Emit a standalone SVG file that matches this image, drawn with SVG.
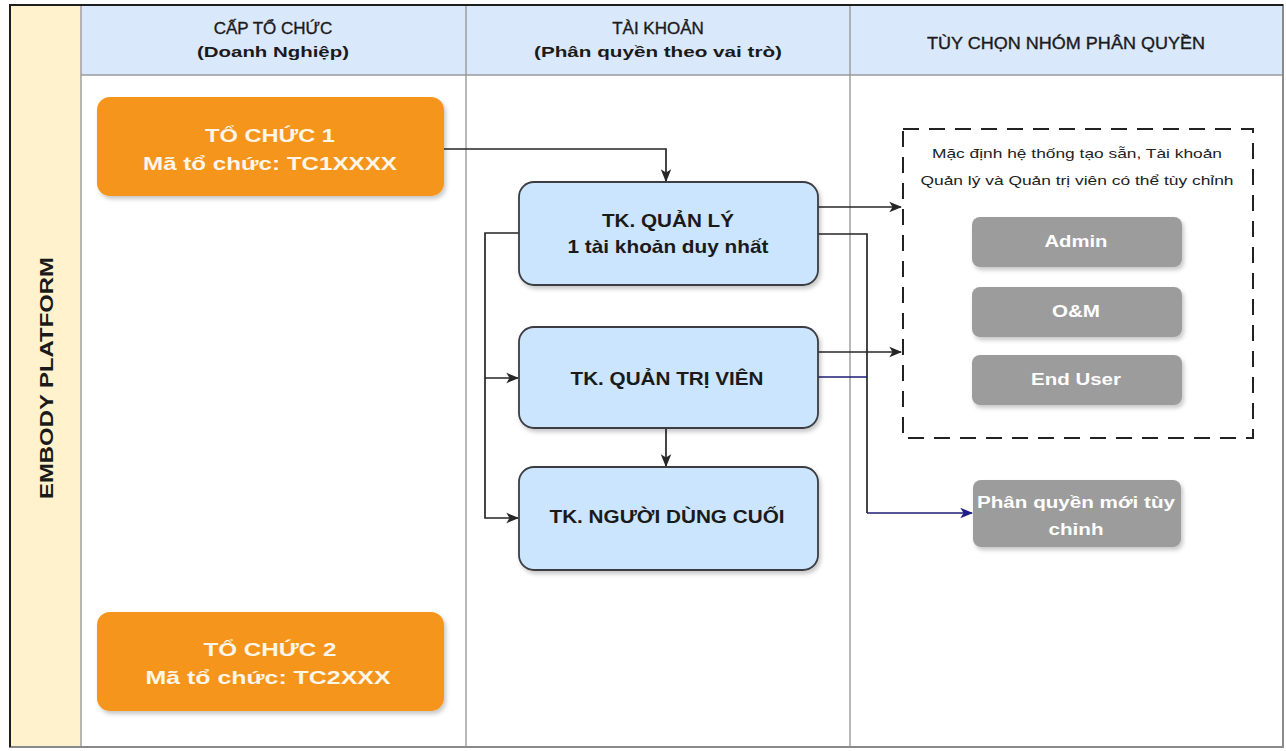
<svg xmlns="http://www.w3.org/2000/svg" width="1286" height="751" viewBox="0 0 1286 751">
<defs>
<style>
.t{font-family:"Liberation Sans",Arial,sans-serif;text-anchor:middle}
.hd{font-size:17px;fill:#1a1a1a;stroke:#1a1a1a;stroke-width:0.35}
.hb{font-size:15px;font-weight:bold;fill:#1a1a1a}
.org{fill:#F5951F}
.ot{font-size:19px;font-weight:bold;fill:#FFF6EA}
.blue{fill:#CCE5FF;stroke:#3A3D42;stroke-width:1.8}
.bt{font-size:19px;font-weight:bold;fill:#1a1a1a}
.gray{fill:#9C9C9C}
.gt{font-size:16px;font-weight:bold;fill:#FFFFFF}
.edge{fill:none;stroke:#262626;stroke-width:1.7}
.edgeb{fill:none;stroke:#1E1E7A;stroke-width:1.7}
.col{stroke:#9A9A9A;stroke-width:1.4}
</style>
<filter id="sh" x="-10%" y="-10%" width="125%" height="130%">
<feDropShadow dx="2" dy="3" stdDeviation="2" flood-color="#000" flood-opacity="0.22"/>
</filter>
<marker id="ar" viewBox="0 0 10 10" refX="9" refY="5" markerWidth="13" markerHeight="13" markerUnits="userSpaceOnUse" orient="auto">
<path d="M0,1 L10,5 L0,9 L2.5,5 z" fill="#262626"/>
</marker>
<marker id="arb" viewBox="0 0 10 10" refX="9" refY="5" markerWidth="13" markerHeight="13" markerUnits="userSpaceOnUse" orient="auto">
<path d="M0,1 L10,5 L0,9 L2.5,5 z" fill="#1E1E8A"/>
</marker>
</defs>

<g id="frame">
<rect x="10" y="5" width="1273" height="742" fill="#FFFFFF"/>
<rect x="10" y="5" width="71" height="742" fill="#FFF2CC"/>
<rect x="81" y="5" width="1202" height="70" fill="#DAE8FC"/>
<line class="col" x1="81" y1="5" x2="81" y2="747"/>
<line class="col" x1="466" y1="5" x2="466" y2="747"/>
<line class="col" x1="850" y1="5" x2="850" y2="747"/>
<line class="col" x1="81" y1="75" x2="1283" y2="75"/>
<rect x="10" y="5" width="1273" height="742" fill="none" stroke="#8a8a8a" stroke-width="2"/>
<path d="M10,747 V5 H1283" fill="none" stroke="#1e1e1e" stroke-width="2"/>
</g>

<g id="lane-label">
<text class="t" x="0" y="0" transform="translate(53,378) rotate(-90)" font-size="19" font-weight="bold" fill="#1a1a1a" textLength="242" lengthAdjust="spacingAndGlyphs">EMBODY PLATFORM</text>
</g>

<g id="headers">
<text class="t hd" x="273" y="34">CẤP TỔ CHỨC</text>
<text class="t hb" x="273" y="57" textLength="152" lengthAdjust="spacingAndGlyphs">(Doanh Nghiệp)</text>
<text class="t hd" x="658" y="34">TÀI KHOẢN</text>
<text class="t hb" x="658" y="57" textLength="248" lengthAdjust="spacingAndGlyphs">(Phân quyền theo vai trò)</text>
<text class="t hd" x="1066" y="49" textLength="278" lengthAdjust="spacingAndGlyphs">TÙY CHỌN NHÓM PHÂN QUYỀN</text>
</g>

<g id="connectors">
<path class="edge" d="M444,149 H666 V181" marker-end="url(#ar)"/>
<path class="edge" d="M519,233 H485 V518 H518" marker-end="url(#ar)"/>
<path class="edge" d="M485,378 H518" marker-end="url(#ar)"/>
<path class="edge" d="M666,428 V466" marker-end="url(#ar)"/>
<path class="edge" d="M818,207 H901" marker-end="url(#ar)"/>
<path class="edge" d="M818,352 H901" marker-end="url(#ar)"/>
<path class="edge" d="M818,234 H867 V513"/>
<path class="edgeb" d="M818,377 H867"/>
<path class="edgeb" d="M867,513 H972" marker-end="url(#arb)"/>
</g>

<g id="org1">
<rect class="org" x="97" y="97" width="347" height="99" rx="13" filter="url(#sh)"/>
<text class="t ot" x="270" y="142" textLength="130" lengthAdjust="spacingAndGlyphs">TỔ CHỨC 1</text>
<text class="t ot" x="270" y="170" textLength="254" lengthAdjust="spacingAndGlyphs">Mã tổ chức: TC1XXXX</text>
</g>

<g id="org2">
<rect class="org" x="97" y="612" width="347" height="99" rx="13" filter="url(#sh)"/>
<text class="t ot" x="270" y="656" textLength="133" lengthAdjust="spacingAndGlyphs">TỔ CHỨC 2</text>
<text class="t ot" x="268" y="684" textLength="245" lengthAdjust="spacingAndGlyphs">Mã tổ chức: TC2XXX</text>
</g>

<g id="tk-quanly">
<rect class="blue" x="519" y="182" width="299" height="103" rx="15" filter="url(#sh)"/>
<text class="t bt" x="668" y="227" textLength="132" lengthAdjust="spacingAndGlyphs">TK. QUẢN LÝ</text>
<text class="t bt" x="668" y="253" textLength="201" lengthAdjust="spacingAndGlyphs">1 tài khoản duy nhất</text>
</g>

<g id="tk-quantrivien">
<rect class="blue" x="519" y="327" width="299" height="101" rx="15" filter="url(#sh)"/>
<text class="t bt" x="667" y="385" textLength="193" lengthAdjust="spacingAndGlyphs">TK. QUẢN TRỊ VIÊN</text>
</g>

<g id="tk-nguoidungcuoi">
<rect class="blue" x="519" y="467" width="299" height="103" rx="15" filter="url(#sh)"/>
<text class="t bt" x="667" y="523" textLength="235" lengthAdjust="spacingAndGlyphs">TK. NGƯỜI DÙNG CUỐI</text>
</g>

<g id="default-groups">
<rect x="903" y="129" width="350" height="309" fill="none" stroke="#222" stroke-width="2" stroke-dasharray="16 10"/>
<text class="t" x="1077" y="158" font-size="13.5" fill="#222" textLength="290" lengthAdjust="spacingAndGlyphs">Mặc định hệ thống tạo sẵn, Tài khoản</text>
<text class="t" x="1077" y="185" font-size="13.5" fill="#222" textLength="313" lengthAdjust="spacingAndGlyphs">Quản lý và Quản trị viên có thể tùy chỉnh</text>
</g>

<g id="admin">
<rect class="gray" x="972" y="217" width="210" height="50" rx="8" filter="url(#sh)"/>
<text class="t gt" x="1076" y="247" textLength="63" lengthAdjust="spacingAndGlyphs">Admin</text>
</g>

<g id="om">
<rect class="gray" x="972" y="287" width="210" height="50" rx="8" filter="url(#sh)"/>
<text class="t gt" x="1076" y="317" textLength="48" lengthAdjust="spacingAndGlyphs">O&amp;M</text>
</g>

<g id="enduser">
<rect class="gray" x="972" y="355" width="210" height="50" rx="8" filter="url(#sh)"/>
<text class="t gt" x="1076" y="385" textLength="90" lengthAdjust="spacingAndGlyphs">End User</text>
</g>

<g id="custom">
<rect class="gray" x="973" y="480" width="208" height="67" rx="8" filter="url(#sh)"/>
<text class="t gt" x="1076" y="508" textLength="198" lengthAdjust="spacingAndGlyphs">Phân quyền mới tùy</text>
<text class="t gt" x="1076" y="535" textLength="55" lengthAdjust="spacingAndGlyphs">chỉnh</text>
</g>
</svg>
